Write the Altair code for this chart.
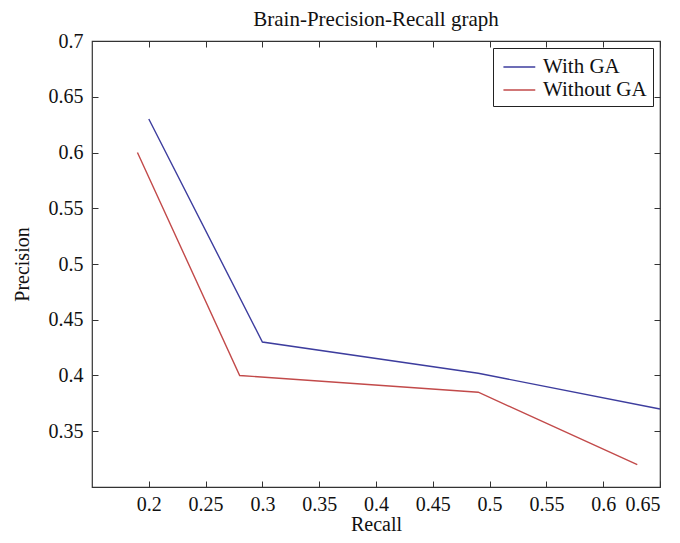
import altair as alt
import pandas as pd

series_names = ["With GA", "Without GA"]
with_ga_recall = [0.20, 0.30, 0.49, 0.65]
with_ga_precision = [0.63, 0.43, 0.402, 0.37]
without_ga_recall = [0.19, 0.28, 0.49, 0.63]
without_ga_precision = [0.60, 0.40, 0.385, 0.32]
x_ticks = [0.2, 0.25, 0.3, 0.35, 0.4, 0.45, 0.5, 0.55, 0.6, 0.65]
y_ticks = [0.35, 0.4, 0.45, 0.5, 0.55, 0.6, 0.65, 0.7]
colors = ["#3d3d9e", "#c24a4a"]

rows = []
for i, (r, p) in enumerate(zip(with_ga_recall, with_ga_precision)):
    rows.append({"series": series_names[0], "Recall": r, "Precision": p, "order": i})
for i, (r, p) in enumerate(zip(without_ga_recall, without_ga_precision)):
    rows.append({"series": series_names[1], "Recall": r, "Precision": p, "order": i})
df = pd.DataFrame(rows)

FONT = "Liberation Serif"
W, H = 568, 446
xs = alt.Scale(domain=[0.15, 0.65], nice=False, zero=False)
ys = alt.Scale(domain=[0.3, 0.7], nice=False, zero=False)

main = alt.Chart(df).mark_line(strokeWidth=1.4).encode(
    x=alt.X("Recall:Q", scale=xs, title="Recall",
            axis=alt.Axis(values=x_ticks, format=".2~f", tickSize=0, domain=False, grid=False,
                          labelPadding=7, titlePadding=0)),
    y=alt.Y("Precision:Q", scale=ys, title="Precision",
            axis=alt.Axis(values=y_ticks, format=".2~f", tickSize=0, domain=False, grid=False,
                          labelPadding=9, titlePadding=16)),
    color=alt.Color("series:N", scale=alt.Scale(domain=series_names, range=colors),
                    legend=alt.Legend(title=None, orient="top-right", offset=7,
                                      symbolType="M-0.7,0H1.9", symbolSize=600, symbolStrokeWidth=1.4,
                                      labelFont=FONT, labelFontSize=21, labelColor="#111",
                                      strokeColor="#222", fillColor="white", padding=6,
                                      rowPadding=0, labelOffset=18, cornerRadius=0)),
    order="order:Q",
)

ticks_a = alt.Chart(df).mark_line(opacity=0).encode(
    x=alt.X("Recall:Q", scale=xs,
            axis=alt.Axis(orient="top", offset=-H, values=x_ticks, labels=False, title=None,
                          tickSize=6, tickColor="#333", domain=False, grid=False)),
    y=alt.Y("Precision:Q", scale=ys,
            axis=alt.Axis(orient="right", offset=-W, values=y_ticks, labels=False, title=None,
                          tickSize=6, tickColor="#333", domain=False, grid=False)),
    detail="series:N",
)

ticks_b = alt.Chart(df).mark_line(opacity=0).encode(
    x=alt.X("Recall:Q", scale=xs,
            axis=alt.Axis(orient="bottom", offset=-H, values=x_ticks, labels=False, title=None,
                          tickSize=6, tickColor="#333", domain=False, grid=False)),
    y=alt.Y("Precision:Q", scale=ys,
            axis=alt.Axis(orient="left", offset=-W, values=y_ticks, labels=False, title=None,
                          tickSize=6, tickColor="#333", domain=False, grid=False)),
    detail="series:N",
)

chart = alt.layer(main, ticks_a, ticks_b).resolve_axis(x="independent", y="independent").properties(
    width=W, height=H,
    title=alt.Title("Brain-Precision-Recall graph", font=FONT, fontSize=21, fontWeight="normal",
                    color="#111", offset=1),
    autosize=alt.AutoSizeParams(type="none"),
    padding={"left": 84, "top": 33, "right": 12, "bottom": 48},
    background="white",
).configure_view(stroke="#333", strokeWidth=1.2).configure_axis(
    labelFont=FONT, labelFontSize=20, labelColor="#111", titleFont=FONT, titleFontSize=20,
    titleFontWeight="normal", titleColor="#111",
)

chart.save("out.html", embed_options={"renderer": "svg", "actions": False})
